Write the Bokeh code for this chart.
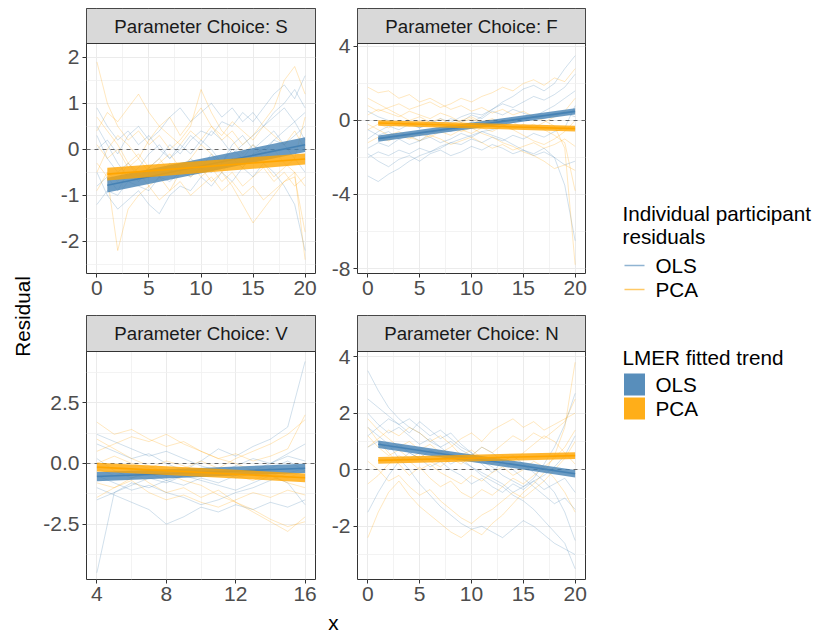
import math
import numpy as np
from bokeh.plotting import figure
from bokeh.layouts import row, column
from bokeh.models import Range1d, FixedTicker, PrintfTickFormatter, Label
from bokeh.embed import file_html
from bokeh.resources import INLINE

FONT = "Liberation Sans"
OLS_COLOR = "#4682B4"
PCA_COLOR = "#FFA500"

# ---------------- data ----------------
X_FULL = list(range(0, 21))
X_V = list(range(4, 17))

S_OLS_RESID = [
    [0.3, -0.2, -0.5, -0.3, -0.6, -0.4, -0.2, 0.1, -0.1, 0.2, 0.4, 0.3, 0.6, 0.5, 0.8, 0.6, 0.9, 1.2, 1.4, 1.1, 1.6],
    [-1.2, -0.9, -1.0, -0.7, -0.8, -0.9, -0.6, -0.7, -0.5, -0.6, -0.4, -0.5, -0.3, -0.2, -0.4, -0.1, 0.0, 0.2, 0.1, 0.3, 0.5],
    [0.9, 0.5, 0.2, 0.4, 0.1, 0.3, 0.0, -0.2, 0.1, -0.1, 0.2, 0.0, -0.3, 0.1, 0.3, 0.0, 0.2, 0.4, 0.1, -0.2, -0.5],
    [-0.5, -1.0, -1.3, -1.1, -0.9, -1.2, -1.4, -1.0, -0.8, -0.9, -0.6, -0.8, -0.5, -0.7, -0.4, -0.6, -0.3, -0.5, -0.8, -1.2, -2.2],
    [0.0, 0.2, -0.1, 0.3, 0.5, 0.2, 0.4, 0.7, 0.9, 0.6, 0.8, 1.0, 0.7, 0.9, 0.6, 0.8, 0.5, 0.7, 0.9, 0.6, 0.8],
    [-0.8, -0.6, -0.9, -0.5, -0.7, -0.4, -0.6, -0.3, -0.5, -0.2, -0.4, -0.1, -0.3, 0.0, -0.2, 0.1, -0.1, 0.2, 0.4, 0.6, 0.2],
    [0.5, 0.1, -0.3, -0.6, -0.4, -0.1, 0.1, -0.2, 0.0, 0.3, 0.1, 0.4, 0.2, -0.1, 0.1, 0.3, 0.5, 0.8, 1.0, 1.3, 0.9],
]
S_PCA_RESID = [
    [1.9, 1.0, 0.5, 0.2, 0.4, 0.1, 0.3, 0.0, 0.2, 0.5, 1.3, 0.8, 0.4, 0.2, -0.1, 0.1, -0.2, 0.0, -0.3, -0.5, -0.8],
    [-0.3, -0.6, -2.2, -1.3, -1.0, -0.8, -1.1, -0.9, -0.7, -1.0, -0.8, -0.6, -0.9, -0.7, -1.0, -0.8, -1.1, -0.9, -0.7, -0.6, -1.8],
    [0.4, 0.8, 0.6, 0.9, 1.2, 0.8, 0.5, 0.7, 0.3, 0.6, 0.9, 0.5, 0.2, 0.4, 0.1, 0.3, 0.6, 0.9, 1.5, 1.8, 1.2],
    [-0.9, -0.5, -0.7, -0.3, -0.5, -0.8, -0.6, -0.9, -0.5, -0.3, -0.6, -0.4, -0.7, -0.5, -0.8, -0.6, -0.4, -0.7, -0.5, -0.8, -0.6],
    [0.1, -0.2, 0.0, -0.4, -0.2, -0.5, -0.3, -0.1, -0.4, -0.2, 0.1, -0.1, -0.5, -0.8, -1.2, -1.6, -1.3, -1.0, -0.7, -0.5, -2.4],
    [-0.5, 0.0, 0.3, 0.1, -0.2, 0.2, 0.5, 0.3, 0.1, 0.4, 0.2, 0.5, 0.3, 0.6, 0.4, 0.2, 0.5, 0.3, 0.1, 0.4, 0.0],
    [0.7, 0.4, 0.1, -0.3, -0.1, -0.4, -0.2, -0.5, -0.3, -0.6, -0.4, -0.7, -0.5, -0.2, -0.4, -0.1, -0.3, -0.6, -0.4, -0.2, 0.7],
]

F_OLS_RESID = [
    [-3.0, -3.3, -2.9, -2.6, -2.2, -1.9, -1.7, -1.5, -1.2, -1.0, -0.8, -0.6, -0.5, -0.3, -0.1, 0.0, 0.2, 0.1, 0.3, 0.4, 0.2],
    [-1.5, -1.2, -1.4, -1.0, -0.8, -1.1, -0.7, -0.5, -0.6, -0.3, -0.1, 0.2, 0.6, 1.0, 1.3, 1.7, 1.9, 1.6, 2.0, 2.8, 3.5],
    [-0.5, -0.8, -0.6, -1.0, -1.3, -1.1, -0.9, -1.2, -1.0, -0.7, -0.9, -0.6, -0.8, -1.0, -1.3, -1.6, -1.8, -1.5, -2.0, -3.5, -6.5],
    [0.5, 0.2, 0.0, -0.3, -0.1, -0.4, -0.2, 0.1, -0.1, 0.2, 0.4, 0.3, 0.6, 0.9, 0.7, 1.0, 1.3, 1.1, 1.4, 1.8, 2.5],
    [-2.0, -1.7, -1.9, -1.6, -1.8, -1.5, -1.7, -1.4, -1.2, -1.3, -1.0, -1.2, -0.9, -1.1, -0.8, -1.0, -0.7, -0.9, -0.6, -0.4, 0.8],
    [-1.0, -0.6, -0.3, -0.5, -0.2, -0.4, 0.0, -0.2, 0.1, -0.1, 0.3, 0.1, 0.5, 0.3, 0.6, 0.4, 0.2, 0.5, 0.8, 1.2, 1.6],
    [-1.8, -2.2, -2.5, -2.1, -1.9, -2.2, -1.8, -1.6, -1.9, -1.7, -1.4, -1.6, -1.3, -1.5, -1.8, -1.6, -1.9, -1.7, -2.0, -2.4, -2.2],
]
F_PCA_RESID = [
    [1.8, 1.5, 1.6, 1.2, 1.4, 1.0, 1.2, 0.9, 0.6, 0.8, 0.5, 0.7, 0.4, 0.6, 0.3, 0.5, 0.2, 0.0, -0.3, -1.5, -7.8],
    [0.8, 0.5, 0.7, 0.9, 0.6, 0.8, 1.0, 0.7, 0.9, 1.2, 1.0, 1.3, 1.5, 1.8, 1.6, 2.0, 2.2, 1.9, 2.3, 2.1, 2.8],
    [-0.5, -0.2, -0.4, -0.1, -0.3, 0.0, -0.2, -0.5, -0.3, -0.6, -0.4, -0.7, -0.9, -1.2, -1.4, -1.7, -1.9, -2.2, -2.6, -2.4, -2.7],
    [0.3, 0.6, 0.4, 0.2, 0.5, 0.3, 0.1, 0.4, 0.2, -0.1, 0.1, -0.2, 0.0, -0.3, -0.1, -0.4, -0.2, -0.5, -0.8, -1.2, -3.8],
    [-1.2, -0.9, -1.1, -0.8, -1.0, -0.7, -0.9, -0.6, -0.8, -0.5, -0.7, -0.4, -0.6, -0.3, -0.5, -0.2, -0.4, -0.1, 0.2, 0.5, 1.2],
    [1.2, 0.9, 0.6, 0.3, 0.0, 0.2, -0.1, 0.1, -0.2, 0.0, 0.2, -0.1, 0.1, -0.2, -0.5, -0.8, -1.1, -1.3, -1.0, -0.6, 0.0],
    [-0.2, -0.5, -0.8, -0.6, -0.9, -1.1, -0.8, -1.0, -1.3, -1.1, -0.9, -1.2, -1.5, -1.3, -1.6, -1.4, -1.2, -1.5, -1.3, -1.0, -1.4],
]

V_OLS_RESID = [
    [-4.5, -1.2, -0.8, -1.0, -0.7, -0.9, -0.6, -0.8, -0.5, -0.3, 0.0, 0.4, 0.8],
    [0.8, 0.5, 0.2, 0.4, 0.0, -0.3, 0.1, 0.6, 0.3, 0.7, 1.0, 1.5, 4.2],
    [-1.0, -1.3, -1.6, -1.9, -2.5, -2.2, -1.8, -2.0, -1.7, -1.9, -1.6, -1.8, -1.5],
    [0.2, -0.3, -0.6, -0.4, -0.7, -0.5, -0.2, -0.4, -0.1, 0.2, 0.0, 0.3, 0.1],
    [-0.5, -0.8, -1.1, -0.9, -1.2, -1.4, -1.7, -1.5, -1.2, -1.0, -0.7, -0.4, -0.2],
    [1.2, 0.9, 0.6, 0.3, 0.5, 0.2, -0.1, -0.3, -0.6, -0.4, -0.2, 0.1, -0.3],
    [-1.5, -1.2, -0.9, -0.6, -0.8, -0.5, -0.7, -0.9, -1.1, -0.8, -0.5, -0.8, -1.7],
]
V_PCA_RESID = [
    [1.7, 1.2, 1.4, 1.0, 0.7, 0.9, 0.5, 0.2, 0.4, 0.1, 0.3, 0.6, 2.0],
    [-0.2, -0.5, -0.3, -0.8, -1.2, -1.0, -1.4, -1.1, -1.6, -1.9, -2.3, -2.6, -2.4],
    [0.5, 0.8, 1.1, 0.9, 1.2, 0.8, 0.5, 0.2, 0.0, -0.3, -0.5, -0.8, -1.0],
    [-0.8, -1.0, -0.7, -1.2, -1.5, -1.3, -1.6, -1.8, -1.5, -1.2, -1.4, -1.1, -1.3],
    [0.0, 0.3, 0.0, -0.2, 0.1, -0.1, -0.4, -0.2, -0.5, -0.7, -0.4, -0.6, -0.3],
    [-1.4, -1.0, -0.6, -0.3, -0.5, -0.2, 0.1, -0.2, 0.2, 0.5, 0.8, 1.2, 1.8],
    [1.0, 0.6, 0.2, -0.1, -0.4, -0.7, -0.9, -1.3, -1.6, -2.0, -2.4, -2.8, -2.2],
]

N_OLS_RESID = [
    [3.5, 2.8, 2.2, 1.8, 1.5, 1.3, 1.0, 0.8, 0.5, 0.3, 0.1, -0.2, -0.4, -0.6, -0.9, -1.1, -1.4, -1.8, -2.2, -2.6, -3.5],
    [2.5, 2.2, 1.9, 1.6, 1.8, 1.5, 1.2, 1.4, 1.1, 0.8, 0.6, 0.3, 0.1, -0.2, -0.4, -0.6, -0.3, 0.2, 0.8, 1.6, 2.7],
    [1.5, 1.2, 0.9, 0.4, 0.0, -0.5, -0.9, -1.3, -1.6, -1.9, -2.1, -2.0, -2.2, -2.4, -2.1, -1.8, -2.0, -2.3, -2.6, -2.8, -3.0],
    [0.8, 1.0, 0.7, 0.9, 0.6, 0.4, 0.7, 0.5, 0.2, 0.4, 0.1, -0.1, -0.3, -0.5, -0.8, -0.6, -0.4, -0.7, -0.5, -0.3, -0.8],
    [2.0, 1.6, 1.3, 1.5, 1.2, 0.9, 1.1, 0.8, 1.0, 0.7, 0.5, 0.8, 0.6, 0.3, 0.5, 0.2, -0.1, -0.4, -0.8, -1.5, -2.5],
    [-1.5, -0.8, -0.2, 0.3, 0.6, 0.4, 0.1, 0.3, 0.0, -0.2, -0.5, -0.3, -0.6, -0.8, -0.5, -0.7, -0.4, -0.2, 0.1, 0.5, 1.2],
    [1.2, 1.5, 1.8, 1.6, 1.3, 1.7, 1.4, 1.1, 1.3, 0.9, 0.6, 0.2, -0.1, 0.3, 0.0, -0.3, -0.6, -0.9, -1.2, -1.0, -1.4],
]
N_PCA_RESID = [
    [-2.4, -1.5, -0.8, -0.4, -0.9, -1.3, -1.6, -1.9, -2.2, -2.4, -2.1, -2.3, -1.9, -1.6, -1.2, -0.8, -0.5, -0.1, 0.5, 1.5, 3.8],
    [1.8, 1.4, 1.1, 0.8, 1.0, 0.7, 0.9, 0.6, 0.8, 1.1, 1.3, 1.0, 1.4, 1.6, 1.8, 1.5, 1.7, 1.4, 1.6, 1.8, 2.0],
    [0.3, 0.0, -0.4, -0.2, -0.6, -0.9, -0.7, -1.1, -1.4, -1.7, -1.9, -1.6, -1.4, -1.1, -0.8, -1.0, -0.7, -0.4, 0.0, 0.4, 1.0],
    [1.2, 0.8, 0.5, 0.7, 0.4, 0.6, 0.3, 0.1, 0.4, 0.2, 0.5, 0.8, 0.6, 0.9, 1.2, 1.0, 1.3, 1.1, 1.4, 1.7, 2.5],
    [-0.5, -0.2, 0.2, 0.5, 0.3, 0.0, 0.2, -0.1, -0.3, -0.5, -0.2, -0.4, -0.1, 0.1, -0.2, 0.0, 0.3, 0.1, -0.3, -0.8, -1.5],
    [0.8, 1.1, 1.4, 1.2, 1.5, 1.3, 1.0, 1.2, 0.9, 0.5, 0.7, 0.4, 0.2, 0.5, 0.3, 0.6, 0.9, 1.2, 1.0, 0.6, 0.2],
    [1.5, 1.0, 0.6, 0.2, -0.2, 0.1, -0.3, -0.6, -0.4, -0.8, -1.0, -0.7, -0.9, -0.6, -0.3, -0.5, -0.2, 0.1, 0.4, 0.8, 1.4],
]

# LMER fitted trends: endpoints and half-width of the confidence ribbon
FIT_X_FULL = [1, 20]
FIT_X_V = [4, 16]
S_OLS_FIT = [-0.78, 0.10]
S_OLS_SE = [0.16, 0.16]
S_PCA_FIT = [-0.54, -0.21]
S_PCA_SE = [0.14, 0.12]
F_OLS_FIT = [-0.98, 0.49]
F_OLS_SE = [0.17, 0.17]
F_PCA_FIT = [-0.14, -0.44]
F_PCA_SE = [0.15, 0.15]
V_OLS_FIT = [-0.54, -0.20]
V_OLS_SE = [0.19, 0.19]
V_PCA_FIT = [-0.15, -0.59]
V_PCA_SE = [0.18, 0.18]
N_OLS_FIT = [0.90, -0.14]
N_OLS_SE = [0.13, 0.13]
N_PCA_FIT = [0.33, 0.50]
N_PCA_SE = [0.12, 0.12]

PANEL_TITLES = ["Parameter Choice: S", "Parameter Choice: F",
                "Parameter Choice: V", "Parameter Choice: N"]
X_TICKS_FULL = [0, 5, 10, 15, 20]
X_MINOR_FULL = [2.5, 7.5, 12.5, 17.5]
X_TICKS_V = [4, 8, 12, 16]
X_MINOR_V = [6, 10, 14]

# ---------------- styling ----------------
TICK_FONT = "21px"
STRIP_FONT = "18.7px"
TITLE_FONT = "20.7px"


def make_panel(title, xs, ols_lines, pca_lines, fit_x, ols_fit, ols_se, pca_fit, pca_se,
               xr, yr, xt, xm, yt, ym, yfmt, width, ml, mr, mt, strip_h, panel_h, mb):
    # the strip sits inside the plot frame, above the data area
    y_top = yr[1] + (yr[1] - yr[0]) * strip_h / panel_h
    height = mt + strip_h + panel_h + mb
    p = figure(width=width, height=height, x_range=Range1d(*xr), y_range=Range1d(yr[0], y_top),
               output_backend="svg", toolbar_location=None,
               min_border_left=ml, min_border_right=mr, min_border_top=mt, min_border_bottom=mb)
    p.extra_x_ranges = {"sx": Range1d(0, 1)}
    p.extra_y_ranges = {"sy": Range1d(0, 1)}
    p.outline_line_color = "#333333"
    p.outline_line_width = 1
    p.background_fill_color = "white"
    p.border_fill_color = "white"
    p.xaxis.ticker = FixedTicker(ticks=xt, minor_ticks=xm)
    p.yaxis.ticker = FixedTicker(ticks=yt, minor_ticks=ym)
    p.yaxis.formatter = PrintfTickFormatter(format=yfmt)
    p.xaxis.formatter = PrintfTickFormatter(format="%d")
    for ax in (p.xaxis, p.yaxis):
        ax.axis_line_color = None
        ax.major_tick_line_color = "#333333"
        ax.major_tick_out = 4
        ax.major_tick_in = 0
        ax.minor_tick_line_color = None
        ax.major_label_text_font = FONT
        ax.major_label_text_font_size = TICK_FONT
        ax.major_label_text_color = "#4D4D4D"
        ax.major_label_standoff = 3
    for g in (p.xgrid, p.ygrid):
        g.grid_line_color = "#EBEBEB"
        g.grid_line_width = 1
        g.minor_grid_line_color = "#F0F0F0"
        g.minor_grid_line_width = 0.8

    p.multi_line(xs=[xs] * len(ols_lines), ys=ols_lines, line_color=OLS_COLOR,
                 line_alpha=0.25, line_width=1)
    p.multi_line(xs=[xs] * len(pca_lines), ys=pca_lines, line_color=PCA_COLOR,
                 line_alpha=0.25, line_width=1)
    p.hspan(y=[0], line_color="#666666", line_dash="4 4", line_width=1)

    for fit, se, col in ((ols_fit, ols_se, OLS_COLOR), (pca_fit, pca_se, PCA_COLOR)):
        f = np.array(fit)
        s = np.array(se)
        p.varea(x=fit_x, y1=f - s, y2=f + s, fill_color=col, fill_alpha=0.8)
        p.line(fit_x, fit, line_color=col, line_width=1.6)

    # facet strip
    frac = panel_h / (panel_h + strip_h)
    p.quad(left=[0], right=[1], bottom=[frac], top=[1], x_range_name="sx", y_range_name="sy",
           fill_color="#D9D9D9", line_color="#333333", line_width=1)
    p.add_layout(Label(x=0.5, y=(1 + frac) / 2, x_range_name="sx", y_range_name="sy",
                       text=title, text_align="center", text_baseline="middle",
                       text_font=FONT, text_font_size=STRIP_FONT, text_color="#1A1A1A"))
    return p


def blank(width, height):
    b = figure(width=width, height=height, x_range=Range1d(0, width), y_range=Range1d(0, height),
               output_backend="svg", toolbar_location=None,
               x_axis_location=None, y_axis_location=None, min_border=0)
    b.grid.visible = False
    b.outline_line_color = None
    b.background_fill_color = "white"
    b.border_fill_color = "white"
    return b


# geometry (pixels)
YLAB_W = 36
L_W, L_ML, L_MR = 282, 50, 3
R_W, R_ML, R_MR = 273, 39, 6
LEG_W = 813 - YLAB_W - L_W - R_W

pS = make_panel(PANEL_TITLES[0], X_FULL, S_OLS_RESID, S_PCA_RESID, FIT_X_FULL,
                S_OLS_FIT, S_OLS_SE, S_PCA_FIT, S_PCA_SE,
                (-1, 21), (-2.7, 2.3), X_TICKS_FULL, X_MINOR_FULL,
                [-2, -1, 0, 1, 2], [-2.5, -1.5, -0.5, 0.5, 1.5], "%d",
                L_W, L_ML, L_MR, 8, 35, 230, 42)
pF = make_panel(PANEL_TITLES[1], X_FULL, F_OLS_RESID, F_PCA_RESID, FIT_X_FULL,
                F_OLS_FIT, F_OLS_SE, F_PCA_FIT, F_PCA_SE,
                (-1, 21), (-8.27, 4.16), X_TICKS_FULL, X_MINOR_FULL,
                [-8, -4, 0, 4], [-6, -2, 2], "%d",
                R_W, R_ML, R_MR, 8, 35, 230, 42)
pV = make_panel(PANEL_TITLES[2], X_V, V_OLS_RESID, V_PCA_RESID, FIT_X_V,
                V_OLS_FIT, V_OLS_SE, V_PCA_FIT, V_PCA_SE,
                (3.4, 16.6), (-4.78, 4.61), X_TICKS_V, X_MINOR_V,
                [-2.5, 0, 2.5], [-3.75, -1.25, 1.25, 3.75], "%.1f",
                L_W, L_ML, L_MR, 0, 36, 228, 30)
pN = make_panel(PANEL_TITLES[3], X_FULL, N_OLS_RESID, N_PCA_RESID, FIT_X_FULL,
                N_OLS_FIT, N_OLS_SE, N_PCA_FIT, N_PCA_SE,
                (-1, 21), (-3.88, 4.18), X_TICKS_FULL, X_MINOR_FULL,
                [-2, 0, 2, 4], [-3, -1, 1, 3], "%d",
                R_W, R_ML, R_MR, 0, 36, 228, 30)

# shared axis titles
ylab = blank(YLAB_W, 634)
ylab.add_layout(Label(x=22, y=634 - 316, text="Residual", angle=math.pi / 2,
                      text_align="center", text_baseline="middle",
                      text_font=FONT, text_font_size=TITLE_FONT, text_color="black"))
xlab = blank(L_W + R_W, 25)
xlab.add_layout(Label(x=333 - YLAB_W, y=12, text="x", text_align="center", text_baseline="middle",
                      text_font=FONT, text_font_size=TITLE_FONT, text_color="black"))

# legend panel
leg = blank(LEG_W, 634)
X0 = 813 - LEG_W


def leg_text(x, y, t):
    leg.add_layout(Label(x=x - X0, y=634 - y, text=t, text_align="left", text_baseline="middle",
                         text_font=FONT, text_font_size=TITLE_FONT, text_color="black"))


leg_text(622, 213, "Individual participant")
leg_text(622, 236, "residuals")
leg_text(655, 265, "OLS")
leg_text(655, 289, "PCA")
leg.segment(x0=[624 - X0], x1=[644 - X0], y0=[634 - 265], y1=[634 - 265],
            line_color=OLS_COLOR, line_alpha=0.6, line_width=1.5)
leg.segment(x0=[624 - X0], x1=[644 - X0], y0=[634 - 289], y1=[634 - 289],
            line_color=PCA_COLOR, line_alpha=0.6, line_width=1.5)
leg_text(622, 357, "LMER fitted trend")
leg_text(655, 384, "OLS")
leg_text(655, 408, "PCA")
leg.rect(x=[634 - X0], y=[634 - 384], width=21, height=22, fill_color=OLS_COLOR,
         fill_alpha=0.9, line_color=None)
leg.rect(x=[634 - X0], y=[634 - 408], width=21, height=22, fill_color=PCA_COLOR,
         fill_alpha=0.9, line_color=None)

layout = row(
    ylab,
    column(
        row(pS, pF),
        row(pV, pN),
        xlab,
    ),
    leg,
)

open("out.html", "w").write(file_html(layout, INLINE))
